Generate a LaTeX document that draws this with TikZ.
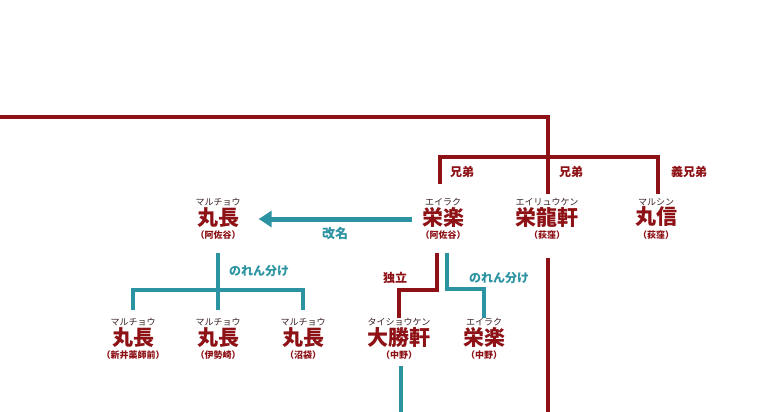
\documentclass[tikz,border=0pt]{standalone}
\usepackage{fontspec}
\newfontfamily\jp{Noto Sans CJK JP}
\usetikzlibrary{arrows.meta,positioning}
\definecolor{kinred}{HTML}{8E1116}
\definecolor{norenteal}{HTML}{2B93A2}
\definecolor{kanagray}{HTML}{3A2222}
\tikzset{
    shop/.style={align=center,inner sep=0pt,text=kinred,font=\jp\fontsize{8}{10}\selectfont},
    kin/.style={draw=kinred,line width=3.6pt},
    noren/.style={draw=norenteal,line width=3.6pt},
    rename/.style={draw=norenteal,line width=5pt,-{Triangle[length=13pt,width=16pt]}},
    tag/.style={inner sep=0pt,font=\jp\bfseries\fontsize{12}{14}\selectfont},
    redtag/.style={tag,text=kinred},
    tealtag/.style={tag,text=norenteal}
}
\newcommand{\shopname}[3]{{\color{kanagray}\fontsize{9}{10}\selectfont #1}\\{\bfseries\fontsize{21}{21}\selectfont #2}\\[3.5pt]{\bfseries\fontsize{9}{10}\selectfont #3}}

\begin{document}
\begin{tikzpicture}[x=1pt,y=-1pt]
    \useasboundingbox[fill=white] (0,0) rectangle (779,412);

    % first generation
    \node[shop] (maru asagaya)   at (218,219) {\shopname{マルチョウ}{丸長}{（阿佐谷）}};
    \node[shop] (eiraku asagaya) at (443,219) {\shopname{エイラク}{栄楽}{（阿佐谷）}};
    \node[shop] (eiryuken)       at (547,219) {\shopname{エイリュウケン}{栄龍軒}{（荻窪）}};
    \node[shop] (marushin)       at (656,219) {\shopname{マルシン}{丸信}{（荻窪）}};

    % second generation
    \node[shop] (maru arai)      at (133,339) {\shopname{マルチョウ}{丸長}{（新井薬師前）}};
    \node[shop] (maru isesaki)   at (218,339) {\shopname{マルチョウ}{丸長}{（伊勢崎）}};
    \node[shop] (maru numabukuro) at (303,339) {\shopname{マルチョウ}{丸長}{（沼袋）}};
    \node[shop] (taishoken)      at (399,339) {\shopname{タイショウケン}{大勝軒}{（中野）}};
    \node[shop] (eiraku nakano)  at (484,339) {\shopname{エイラク}{栄楽}{（中野）}};

    % branching points
    \coordinate (origin)   at (0,117);
    \coordinate (kin fork) at (548,157);
    \coordinate (noren fork) at (218,290);
    \coordinate (indep fork) at (437,290);
    \coordinate (split fork) at (447,289);
    \coordinate (taisho end) at (401,412);
    \coordinate (ryu end)    at (548,412);

    % brothers
    \draw[kin] (origin) -| (kin fork);
    \draw[kin,shorten >=4pt] (kin fork) -- (eiryuken.north -| kin fork);
    \draw[kin,shorten >=14pt] (kin fork) -| ([xshift=-3pt]eiraku asagaya.north);
    \draw[kin,shorten >=4pt] (kin fork) -| ([xshift=2pt]marushin.north);
    \node[redtag] (brother 1) at (462,172) {兄弟};
    \node[redtag] (brother 2) at (571,172) {兄弟};
    \node[redtag] (sworn)     at (689,172) {義兄弟};

    % renaming
    \draw[rename,shorten <=8pt,shorten >=18pt] (eiraku asagaya.west) -- (maru asagaya.east);
    \node[tealtag,font=\jp\bfseries\fontsize{13}{15}\selectfont] (kaimei) at (335,234) {改名};

    % noren wake of maruchou
    \draw[noren,shorten <=13pt] (maru asagaya.south) -- (noren fork);
    \draw[noren,shorten >=8pt] (noren fork) -| (maru arai.north);
    \draw[noren,shorten >=8pt] (noren fork) -| (maru numabukuro.north);
    \draw[noren,shorten >=8pt] (noren fork) -- (maru isesaki.north);
    \node[tealtag] (noren 1) at (259,271) {のれん分け};

    % eiraku branches
    \draw[kin,shorten <=13pt] (eiraku asagaya.south -| indep fork) -- (indep fork) -| (taishoken.north);
    \draw[noren,shorten <=13pt] (eiraku asagaya.south -| split fork) -- (split fork) -| (eiraku nakano.north);
    \node[redtag] (indep) at (395,278) {独立};
    \node[tealtag] (noren 2) at (499,278) {のれん分け};

    % continuing lines
    \draw[noren,shorten <=6pt] (taishoken.south -| taisho end) -- (taisho end);
    \draw[kin,shorten <=18pt] (eiryuken.south -| ryu end) -- (ryu end);
\end{tikzpicture}
\end{document}
